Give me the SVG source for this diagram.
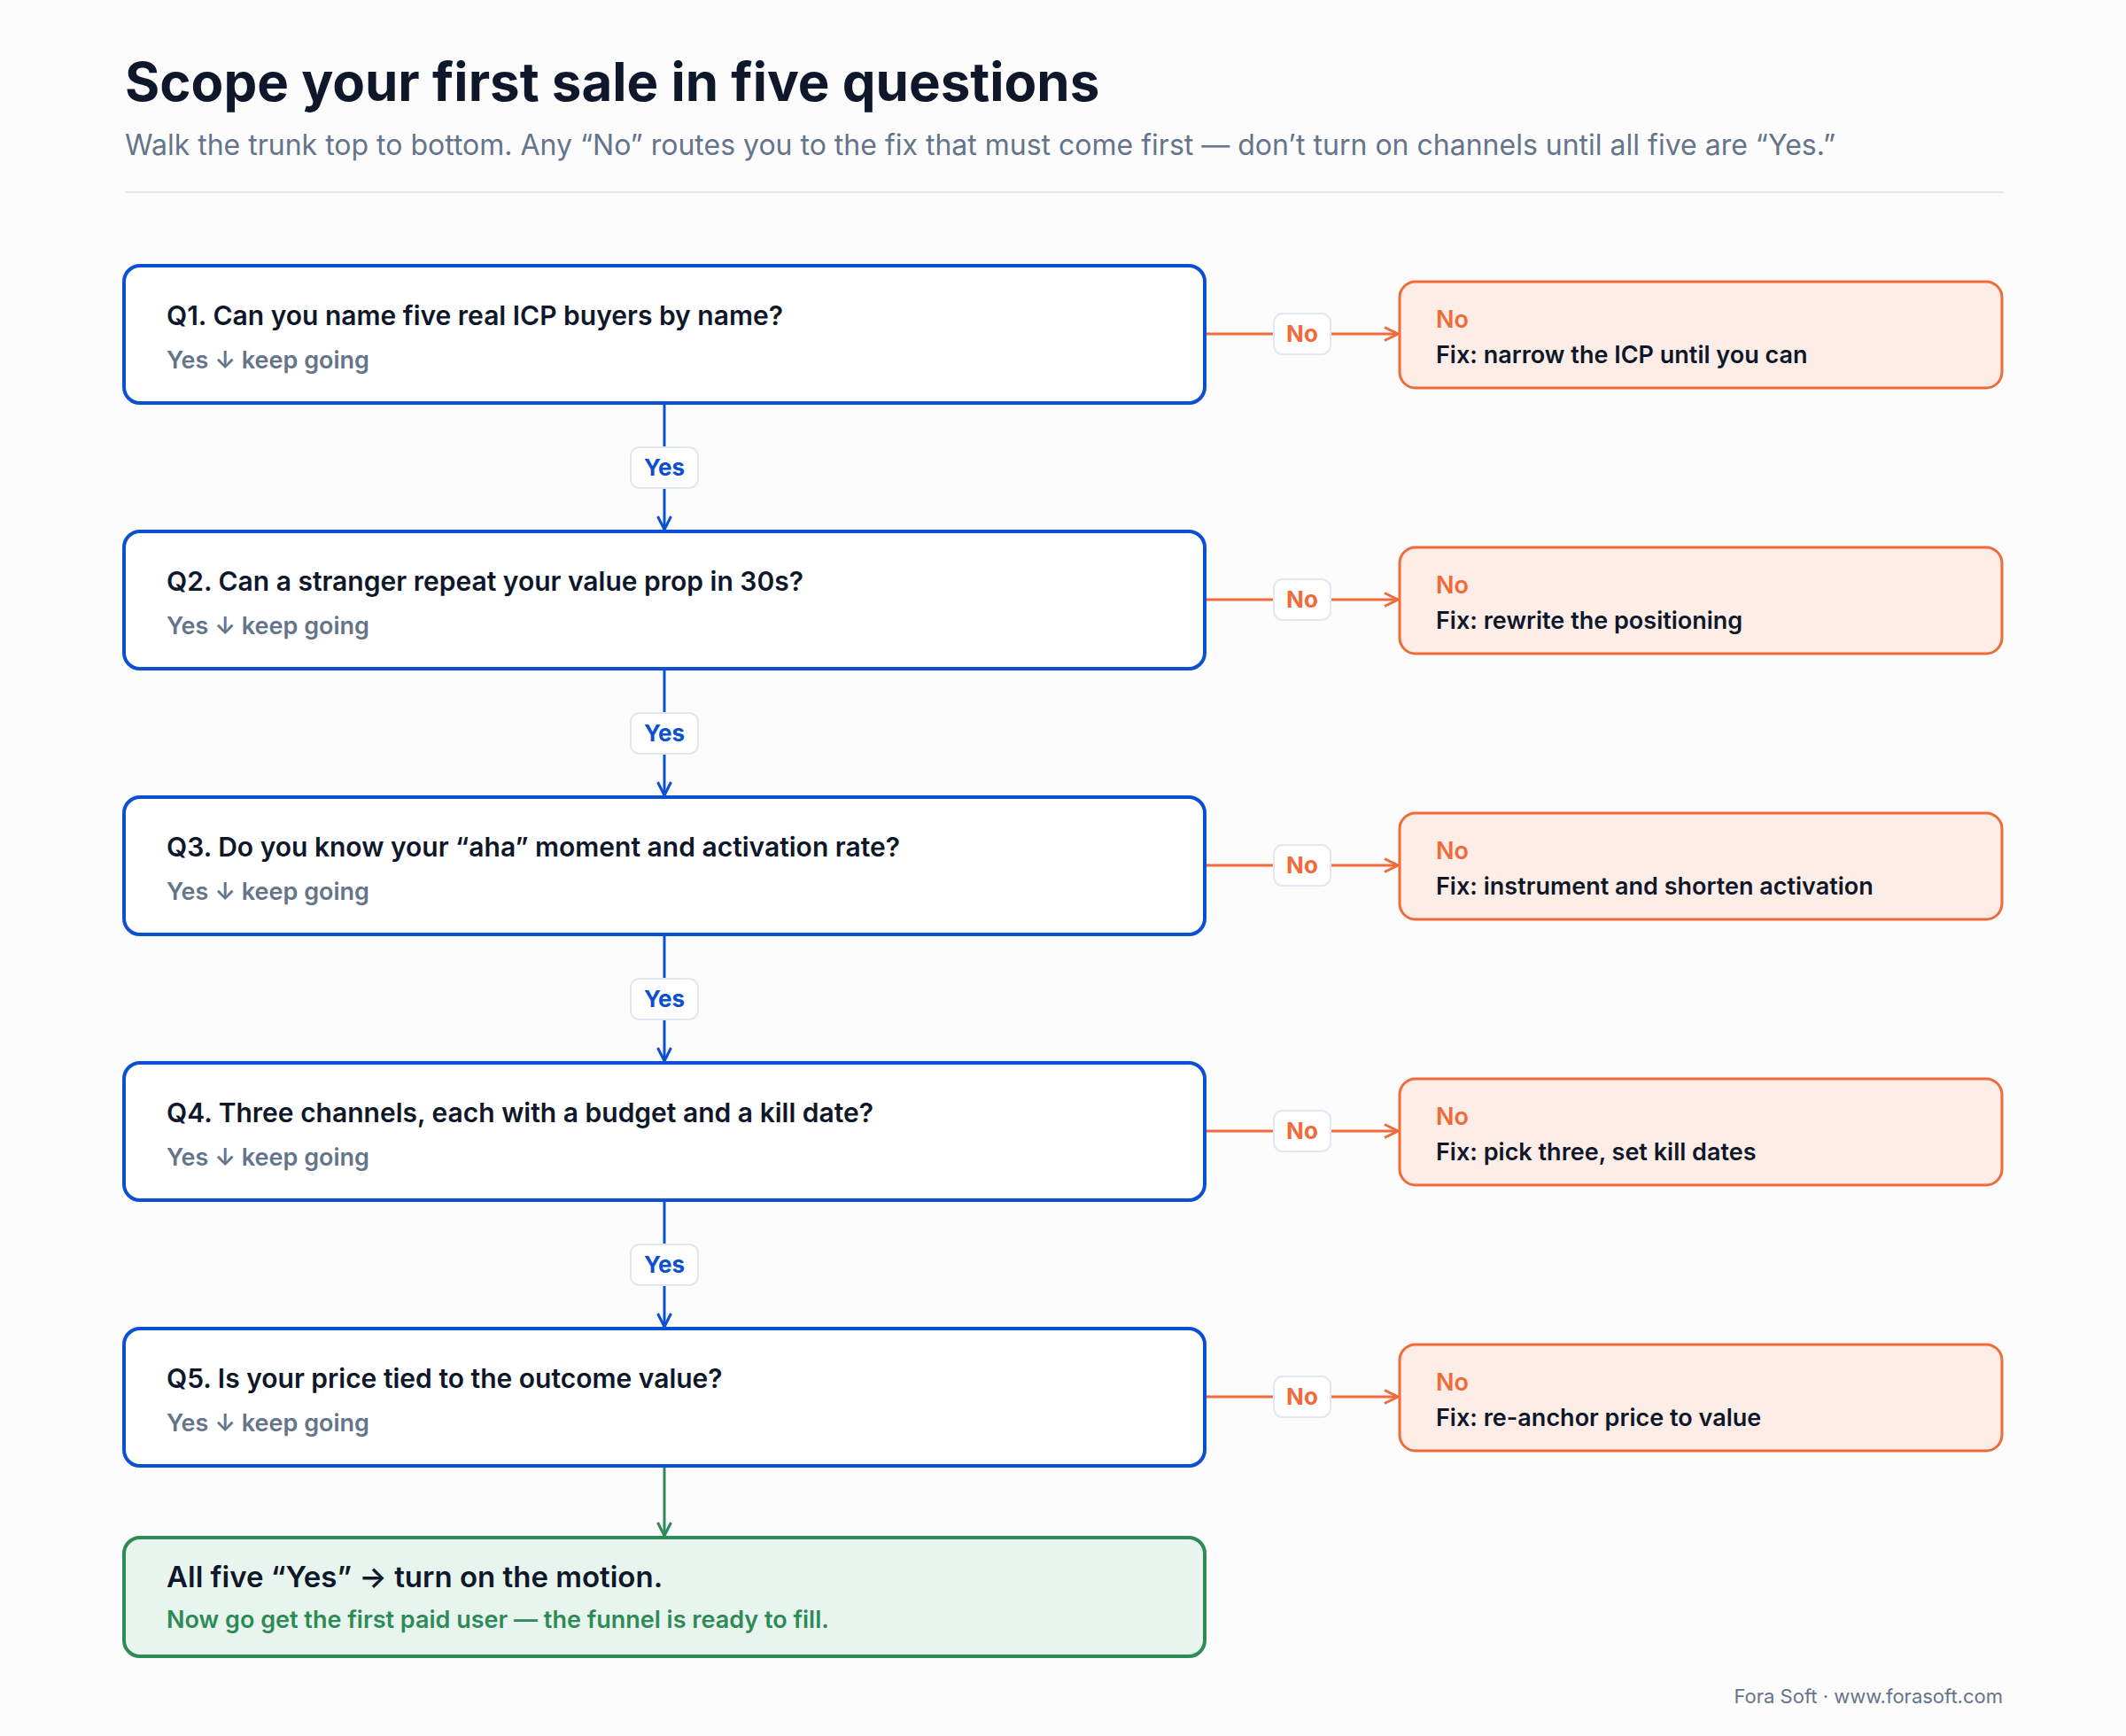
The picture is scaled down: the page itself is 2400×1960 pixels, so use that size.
<svg xmlns="http://www.w3.org/2000/svg" width="2400" height="1960" viewBox="0 0 2400 1960">
<style>
text{font-family:Inter,"Liberation Sans",sans-serif}
.q{fill:#fff;stroke:#0b50d0;stroke-width:4}
.qt{font-size:30px;font-weight:600;fill:#0f172a}
.qs{font-size:27px;font-weight:600;fill:#64748b}
.f{fill:#fdede6;stroke:#f06a3a;stroke-width:3}
.fn{font-size:27px;font-weight:600;fill:#f06a3a}
.ft{font-size:27px;font-weight:600;fill:#0f172a}
.pill{fill:#fff;stroke:#e2e8f0;stroke-width:2}
.yl{stroke:#0b50d0;stroke-width:3;fill:none}
.nl{stroke:#f06a3a;stroke-width:3;fill:none}
.yt{font-size:26px;font-weight:700;fill:#0b50d0;text-anchor:middle}
.nt{font-size:26px;font-weight:700;fill:#f06a3a;text-anchor:middle}
</style>
<defs>
<marker id="ab" viewBox="0 0 12 12" refX="11" refY="6" markerWidth="18" markerHeight="18" markerUnits="userSpaceOnUse" orient="auto"><path d="M1 1L11 6L1 11" fill="none" stroke="#0b50d0" stroke-width="2"/></marker>
<marker id="ao" viewBox="0 0 12 12" refX="11" refY="6" markerWidth="18" markerHeight="18" markerUnits="userSpaceOnUse" orient="auto"><path d="M1 1L11 6L1 11" fill="none" stroke="#f06a3a" stroke-width="2"/></marker>
<marker id="ag" viewBox="0 0 12 12" refX="11" refY="6" markerWidth="18" markerHeight="18" markerUnits="userSpaceOnUse" orient="auto"><path d="M1 1L11 6L1 11" fill="none" stroke="#2e8b57" stroke-width="2"/></marker>
</defs>
<rect width="2400" height="1960" fill="#fcfcfc"/>
<text x="141" y="114" font-size="60" font-weight="700" fill="#0f172a">Scope your first sale in five questions</text>
<text x="141" y="175" font-size="32" fill="#64748b">Walk the trunk top to bottom. Any “No” routes you to the fix that must come first — don’t turn on channels until all five are “Yes.”</text>
<line x1="141" y1="217" x2="2262" y2="217" stroke="#e2e8f0" stroke-width="2"/>

<g id="connectors">
<line class="yl" x1="750" y1="456" x2="750" y2="598" marker-end="url(#ab)"/>
<line class="yl" x1="750" y1="756" x2="750" y2="898" marker-end="url(#ab)"/>
<line class="yl" x1="750" y1="1056" x2="750" y2="1198" marker-end="url(#ab)"/>
<line class="yl" x1="750" y1="1356" x2="750" y2="1498" marker-end="url(#ab)"/>
<line x1="750" y1="1656" x2="750" y2="1734" stroke="#2e8b57" stroke-width="3" marker-end="url(#ag)"/>
<g id="yes-pills">
<rect class="pill" x="712" y="505" width="76" height="46" rx="10"/><text class="yt" x="750" y="537">Yes</text>
<rect class="pill" x="712" y="805" width="76" height="46" rx="10"/><text class="yt" x="750" y="837">Yes</text>
<rect class="pill" x="712" y="1105" width="76" height="46" rx="10"/><text class="yt" x="750" y="1137">Yes</text>
<rect class="pill" x="712" y="1405" width="76" height="46" rx="10"/><text class="yt" x="750" y="1437">Yes</text>
</g>
<line class="nl" x1="1360" y1="377" x2="1578" y2="377" marker-end="url(#ao)"/>
<line class="nl" x1="1360" y1="677" x2="1578" y2="677" marker-end="url(#ao)"/>
<line class="nl" x1="1360" y1="977" x2="1578" y2="977" marker-end="url(#ao)"/>
<line class="nl" x1="1360" y1="1277" x2="1578" y2="1277" marker-end="url(#ao)"/>
<line class="nl" x1="1360" y1="1577" x2="1578" y2="1577" marker-end="url(#ao)"/>
<g id="no-pills">
<rect class="pill" x="1438" y="354" width="64" height="46" rx="10"/><text class="nt" x="1470" y="386">No</text>
<rect class="pill" x="1438" y="654" width="64" height="46" rx="10"/><text class="nt" x="1470" y="686">No</text>
<rect class="pill" x="1438" y="954" width="64" height="46" rx="10"/><text class="nt" x="1470" y="986">No</text>
<rect class="pill" x="1438" y="1254" width="64" height="46" rx="10"/><text class="nt" x="1470" y="1286">No</text>
<rect class="pill" x="1438" y="1554" width="64" height="46" rx="10"/><text class="nt" x="1470" y="1586">No</text>
</g>
</g>

<g id="q1"><rect class="q" x="140" y="300" width="1220" height="155" rx="18"/><text class="qt" x="188" y="367">Q1. Can you name five real ICP buyers by name?</text><text class="qs" x="188" y="416">Yes ↓ keep going</text></g>
<g id="q2"><rect class="q" x="140" y="600" width="1220" height="155" rx="18"/><text class="qt" x="188" y="667">Q2. Can a stranger repeat your value prop in 30s?</text><text class="qs" x="188" y="716">Yes ↓ keep going</text></g>
<g id="q3"><rect class="q" x="140" y="900" width="1220" height="155" rx="18"/><text class="qt" x="188" y="967">Q3. Do you know your “aha” moment and activation rate?</text><text class="qs" x="188" y="1016">Yes ↓ keep going</text></g>
<g id="q4"><rect class="q" x="140" y="1200" width="1220" height="155" rx="18"/><text class="qt" x="188" y="1267">Q4. Three channels, each with a budget and a kill date?</text><text class="qs" x="188" y="1316">Yes ↓ keep going</text></g>
<g id="q5"><rect class="q" x="140" y="1500" width="1220" height="155" rx="18"/><text class="qt" x="188" y="1567">Q5. Is your price tied to the outcome value?</text><text class="qs" x="188" y="1616">Yes ↓ keep going</text></g>

<g id="f1"><rect class="f" x="1580" y="318" width="680" height="120" rx="18"/><text class="fn" x="1621" y="370">No</text><text class="ft" x="1621" y="410">Fix: narrow the ICP until you can</text></g>
<g id="f2"><rect class="f" x="1580" y="618" width="680" height="120" rx="18"/><text class="fn" x="1621" y="670">No</text><text class="ft" x="1621" y="710">Fix: rewrite the positioning</text></g>
<g id="f3"><rect class="f" x="1580" y="918" width="680" height="120" rx="18"/><text class="fn" x="1621" y="970">No</text><text class="ft" x="1621" y="1010">Fix: instrument and shorten activation</text></g>
<g id="f4"><rect class="f" x="1580" y="1218" width="680" height="120" rx="18"/><text class="fn" x="1621" y="1270">No</text><text class="ft" x="1621" y="1310">Fix: pick three, set kill dates</text></g>
<g id="f5"><rect class="f" x="1580" y="1518" width="680" height="120" rx="18"/><text class="fn" x="1621" y="1570">No</text><text class="ft" x="1621" y="1610">Fix: re-anchor price to value</text></g>

<g id="done"><rect x="140" y="1736" width="1220" height="134" rx="18" fill="#e8f5ee" stroke="#2e8b57" stroke-width="4"/><text x="188" y="1792" font-size="33" font-weight="600" fill="#0f172a">All five “Yes” → turn on the motion.</text><text x="188" y="1838" font-size="27" font-weight="600" fill="#2e8b57">Now go get the first paid user — the funnel is ready to fill.</text></g>

<text x="2261" y="1923" font-size="22" fill="#64748b" text-anchor="end">Fora Soft · www.forasoft.com</text>
</svg>
